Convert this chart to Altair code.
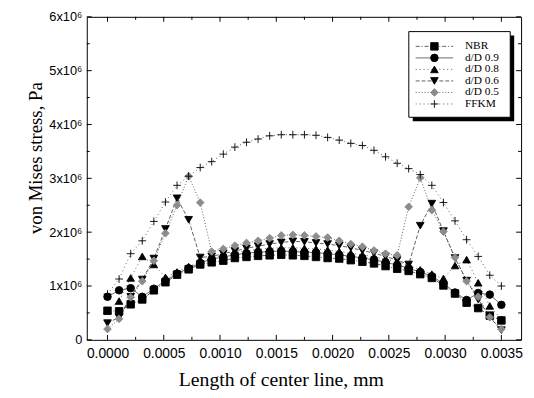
import altair as alt
import pandas as pd

series_names = ["NBR", "d/D 0.9", "d/D 0.8", "d/D 0.6", "d/D 0.5", "FFKM"]

# node positions along the center line (mm)
x_mm = [0.0, 0.000103, 0.000206, 0.000309, 0.000412, 0.000515, 0.000618, 0.000721,
        0.000824, 0.000926, 0.001029, 0.001132, 0.001235, 0.001338, 0.001441, 0.001544,
        0.001647, 0.00175, 0.001853, 0.001956, 0.002059, 0.002162, 0.002265, 0.002368,
        0.002471, 0.002574, 0.002676, 0.002779, 0.002882, 0.002985, 0.003088, 0.003191,
        0.003294, 0.003397, 0.0035]

# von Mises stress, in units of 1e6 Pa
nbr = [0.54, 0.53, 0.66, 0.75, 0.92, 1.07, 1.21, 1.31, 1.40, 1.44, 1.47, 1.52, 1.54, 1.56, 1.57,
       1.58, 1.57, 1.56, 1.54, 1.52, 1.51, 1.48, 1.45, 1.42, 1.37, 1.32, 1.28, 1.22, 1.15, 1.01,
       0.86, 0.69, 0.59, 0.45, 0.36]
dd09 = [0.80, 0.92, 0.96, 0.80, 0.95, 1.10, 1.23, 1.33, 1.43, 1.50, 1.54, 1.58, 1.61, 1.63, 1.64,
        1.65, 1.64, 1.63, 1.62, 1.60, 1.58, 1.55, 1.52, 1.49, 1.44, 1.39, 1.33, 1.26, 1.18, 1.05,
        0.88, 0.74, 0.87, 0.84, 0.65]
dd08 = [0.55, 0.72, 1.15, 1.55, 1.40, 1.16, 1.26, 1.36, 1.45, 1.52, 1.57, 1.62, 1.65, 1.68, 1.70,
        1.71, 1.71, 1.70, 1.69, 1.67, 1.64, 1.61, 1.58, 1.54, 1.50, 1.45, 1.38, 1.30, 1.22, 1.14,
        1.38, 1.49, 1.06, 0.63, 0.38]
dd06 = [0.31, 0.42, 0.80, 1.12, 1.51, 2.06, 2.63, 2.23, 1.53, 1.55, 1.60, 1.65, 1.70, 1.74, 1.78,
        1.81, 1.83, 1.82, 1.80, 1.78, 1.75, 1.71, 1.66, 1.61, 1.55, 1.48, 1.40, 2.12, 2.53, 2.02,
        1.52, 1.10, 0.75, 0.42, 0.18]
dd05 = [0.20, 0.39, 0.79, 1.09, 1.47, 1.98, 2.50, 3.04, 2.55, 1.64, 1.69, 1.75, 1.80, 1.84, 1.89,
        1.94, 1.95, 1.94, 1.92, 1.90, 1.84, 1.78, 1.73, 1.66, 1.60, 1.57, 2.47, 3.01, 2.41, 2.01,
        1.53, 1.09, 0.80, 0.42, 0.20]
ffkm = [0.85, 1.13, 1.60, 1.84, 2.20, 2.56, 2.87, 3.04, 3.20, 3.31, 3.45, 3.58, 3.67, 3.73, 3.79,
        3.81, 3.81, 3.81, 3.80, 3.76, 3.71, 3.65, 3.61, 3.52, 3.40, 3.28, 3.18, 3.07, 2.87, 2.55,
        2.21, 1.86, 1.55, 1.20, 1.00]

x_ticks = [0.0, 0.0005, 0.001, 0.0015, 0.002, 0.0025, 0.003, 0.0035]
x_minor = [0.00025, 0.00075, 0.00125, 0.00175, 0.00225, 0.00275, 0.00325]
y_ticks = [0, 1e6, 2e6, 3e6, 4e6, 5e6, 6e6]
y_minor = [0.5e6, 1.5e6, 2.5e6, 3.5e6, 4.5e6, 5.5e6]

rows = []
for name, vals in zip(series_names, [nbr, dd09, dd08, dd06, dd05, ffkm]):
    for xv, yv in zip(x_mm, vals):
        rows.append({"series": name, "x": xv, "y": yv * 1e6})
df = pd.DataFrame(rows)

W, H = 441, 328
SANS = "Liberation Sans"
SERIF = "Liberation Serif"

xscale = alt.Scale(domain=[-0.000184, 0.003675], nice=False, zero=False)
yscale = alt.Scale(domain=[0, 6e6], nice=False, zero=False)

dash_scale = alt.Scale(domain=series_names,
                       range=[[4, 2, 1, 2], [1, 0], [1, 3], [4, 2], [1, 2], [1, 3]])
op_scale = alt.Scale(domain=series_names, range=[0.9, 0.9, 0.6, 0.9, 0.45, 0.6])
shape_scale = alt.Scale(domain=series_names,
                        range=["square", "circle", "triangle-up", "triangle-down", "diamond",
                               "M-1,0H1M0,-1V1"])
fill_scale = alt.Scale(domain=series_names,
                       range=["black", "black", "black", "black", "#8c8c8c", "black"])
size_scale = alt.Scale(domain=series_names, range=[58, 62, 70, 85, 55, 45])

x_axis = alt.Axis(values=x_ticks, format=".4f", ticks=False, domain=False, grid=False,
                  labelFont=SANS, labelFontSize=14, labelColor="black", labelPadding=7,
                  title="Length of center line, mm", titleFont=SERIF, titleFontSize=20,
                  titleFontWeight="normal", titleColor="black", titleX=197, titleY=46,
                  titleBaseline="alphabetic", titleAlign="center")
y_axis = alt.Axis(values=y_ticks, ticks=False, domain=False, grid=False,
                  labelExpr="datum.value == 0 ? '0' : format(datum.value / 1000000, 'd') + 'x10⁶'",
                  labelFont=SANS, labelFontSize=13, labelColor="black", labelPadding=5,
                  title="von Mises stress, Pa", titleFont=SERIF, titleFontSize=19,
                  titleFontWeight="normal", titleColor="black", titleX=-46, titleY=143,
                  titleAngle=270, titleBaseline="alphabetic", titleAlign="center")

X = alt.X("x:Q", scale=xscale, axis=x_axis)
Y = alt.Y("y:Q", scale=yscale, axis=y_axis)

base = alt.Chart(df)
lines = base.mark_line(strokeWidth=0.8, color="#222").encode(
    x=X, y=Y,
    strokeDash=alt.StrokeDash("series:N", scale=dash_scale, legend=None),
    opacity=alt.Opacity("series:N", scale=op_scale, legend=None),
    detail="series:N",
)
points = base.mark_point(filled=True, strokeWidth=0.9, opacity=1).encode(
    x=X, y=Y,
    shape=alt.Shape("series:N", scale=shape_scale, legend=None),
    fill=alt.Fill("series:N", scale=fill_scale, legend=None),
    stroke=alt.Stroke("series:N", scale=fill_scale, legend=None),
    size=alt.Size("series:N", scale=size_scale, legend=None),
)

# inward ticks on all four sides
xt_major = pd.DataFrame({"x": x_ticks})
xt_minor = pd.DataFrame({"x": x_minor})
yt_major = pd.DataFrame({"y": y_ticks})
yt_minor = pd.DataFrame({"y": y_minor})

def xt(data, y0, y1):
    return alt.Chart(data).mark_rule(color="black", strokeWidth=1).encode(
        x=X, y=alt.value(y0), y2=alt.value(y1))

def yt(data, x0, x1):
    return alt.Chart(data).mark_rule(color="black", strokeWidth=1).encode(
        y=Y, x=alt.value(x0), x2=alt.value(x1))

ticks = [
    xt(xt_major, H, H - 5), xt(xt_minor, H, H - 3),
    xt(xt_major, 0, 5), xt(xt_minor, 0, 3),
    yt(yt_major, 0, 5), yt(yt_minor, 0, 3),
    yt(yt_major, W, W - 5), yt(yt_minor, W, W - 3),
]

main = alt.layer(lines, points, *ticks)

# legend
leg_df = pd.DataFrame({"series": series_names})
leg_y = alt.Y("series:N", scale=alt.Scale(type="point", domain=series_names,
                                           range=[30, 88.5], padding=0), axis=None)
one = pd.DataFrame({"k": [0]})
shadow = alt.Chart(one).mark_rect(color="black").encode(
    x=alt.value(331), x2=alt.value(434), y=alt.value(19), y2=alt.value(106))
box = alt.Chart(one).mark_rect(fill="white", stroke="black", strokeWidth=1).encode(
    x=alt.value(327), x2=alt.value(430), y=alt.value(15), y2=alt.value(102))
leg_lines = alt.Chart(leg_df).mark_rule(strokeWidth=0.8, color="#222").encode(
    x=alt.value(334), x2=alt.value(372), y=leg_y,
    strokeDash=alt.StrokeDash("series:N", scale=dash_scale, legend=None),
    opacity=alt.Opacity("series:N", scale=op_scale, legend=None),
)
leg_pts = alt.Chart(leg_df).mark_point(filled=True, strokeWidth=0.9, opacity=1).encode(
    x=alt.value(353), y=leg_y,
    shape=alt.Shape("series:N", scale=shape_scale, legend=None),
    fill=alt.Fill("series:N", scale=fill_scale, legend=None),
    stroke=alt.Stroke("series:N", scale=fill_scale, legend=None),
    size=alt.Size("series:N", scale=size_scale, legend=None),
)
leg_txt = alt.Chart(leg_df).mark_text(align="left", baseline="middle", font=SERIF,
                                      fontSize=11.5, color="black").encode(
    x=alt.value(384), y=leg_y, text="series:N")

legend = alt.layer(shadow, box, leg_lines, leg_pts, leg_txt)

chart = alt.layer(main, legend).resolve_scale(y="independent").properties(
    width=W, height=H,
    autosize=alt.AutoSizeParams(type="none"),
    padding={"left": 80, "top": 6, "right": 5, "bottom": 50},
    background="white",
).configure_view(stroke="black", strokeWidth=1)

chart.save("out.html", embed_options={"renderer": "svg", "actions": False})
